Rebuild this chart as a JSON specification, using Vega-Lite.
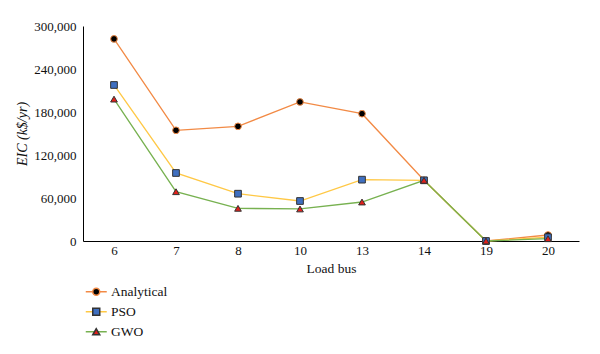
{
  "$schema": "https://vega.github.io/schema/vega-lite/v6.json",
  "autosize": "none",
  "width": 496,
  "height": 215,
  "padding": {"left": 83, "top": 26, "right": 21, "bottom": 113},
  "background": "white",
  "config": {
    "font": "Liberation Serif",
    "view": {"stroke": null},
    "text": {"font": "Liberation Serif"},
    "axis": {"grid": false, "domainColor": "#000", "labelColor": "#111", "titleColor": "#111", "labelFont": "Liberation Serif", "titleFont": "Liberation Serif", "titleFontWeight": "normal"},
    "legend": {"orient": "none", "direction": "vertical", "labelFontSize": 13.5, "labelFont": "Liberation Serif", "labelColor": "#111", "rowPadding": 5, "title": null, "padding": 0, "symbolSize": 49}
  },
  "resolve": {"legend": {"color": "independent", "shape": "independent", "fill": "independent", "stroke": "independent"}},
  "data": {"values": [
    {"bus": "6", "method": "Analytical", "eic": 282000},
    {"bus": "7", "method": "Analytical", "eic": 154500},
    {"bus": "8", "method": "Analytical", "eic": 160000},
    {"bus": "10", "method": "Analytical", "eic": 194000},
    {"bus": "13", "method": "Analytical", "eic": 177600},
    {"bus": "14", "method": "Analytical", "eic": 84700},
    {"bus": "19", "method": "Analytical", "eic": 0},
    {"bus": "20", "method": "Analytical", "eic": 8400},
    {"bus": "6", "method": "PSO", "eic": 217700},
    {"bus": "7", "method": "PSO", "eic": 94900},
    {"bus": "8", "method": "PSO", "eic": 66000},
    {"bus": "10", "method": "PSO", "eic": 55800},
    {"bus": "13", "method": "PSO", "eic": 85600},
    {"bus": "14", "method": "PSO", "eic": 84700},
    {"bus": "19", "method": "PSO", "eic": 0},
    {"bus": "20", "method": "PSO", "eic": 5200},
    {"bus": "6", "method": "GWO", "eic": 198000},
    {"bus": "7", "method": "GWO", "eic": 68800},
    {"bus": "8", "method": "GWO", "eic": 45600},
    {"bus": "10", "method": "GWO", "eic": 44700},
    {"bus": "13", "method": "GWO", "eic": 54400},
    {"bus": "14", "method": "GWO", "eic": 84700},
    {"bus": "19", "method": "GWO", "eic": 0},
    {"bus": "20", "method": "GWO", "eic": 3200}
  ]},
  "encoding": {
    "x": {"field": "bus", "type": "ordinal", "sort": null,
      "scale": {"type": "point", "padding": 0.5},
      "axis": {"title": "Load bus", "labelAngle": 0, "ticks": false, "labelFontSize": 13, "titleFontSize": 13.5, "labelPadding": 3, "titlePadding": 4}},
    "y": {"field": "eic", "type": "quantitative",
      "scale": {"domain": [0, 300000], "nice": false},
      "axis": {"title": "EIC (k$/yr)", "titleFontStyle": "italic", "values": [0, 60000, 120000, 180000, 240000, 300000], "format": ",.0f", "ticks": false, "labelFontSize": 13, "titleFontSize": 14, "labelPadding": 7, "titlePadding": 4}}
  },
  "layer": [
    {
      "mark": {"type": "line", "strokeWidth": 1.3},
      "encoding": {
        "color": {"field": "method", "type": "nominal",
          "scale": {"domain": ["Analytical", "PSO", "GWO"], "range": ["#F28A45", "#FFC845", "#77B150"]},
          "legend": {"legendX": 6.5, "legendY": 259, "symbolType": "M-3,0H3", "symbolStrokeWidth": 1.5, "labelOffset": 8}}
      }
    },
    {
      "mark": {"type": "point", "filled": true, "size": 45, "strokeWidth": 1, "opacity": 1},
      "encoding": {
        "shape": {"field": "method", "type": "nominal",
          "scale": {"domain": ["Analytical", "PSO", "GWO"], "range": ["circle", "square", "triangle-up"]},
          "legend": {"legendX": 6.5, "legendY": 259, "labelExpr": "' '"}},
        "fill": {"field": "method", "type": "nominal",
          "scale": {"domain": ["Analytical", "PSO", "GWO"], "range": ["#000000", "#3F6FC0", "#E0201B"]},
          "legend": {"legendX": 6.5, "legendY": 259, "labelExpr": "' '"}},
        "stroke": {"field": "method", "type": "nominal",
          "scale": {"domain": ["Analytical", "PSO", "GWO"], "range": ["#F28A45", "#333333", "#333333"]},
          "legend": {"legendX": 6.5, "legendY": 259, "labelExpr": "' '"}}
      }
    }
  ]
}
